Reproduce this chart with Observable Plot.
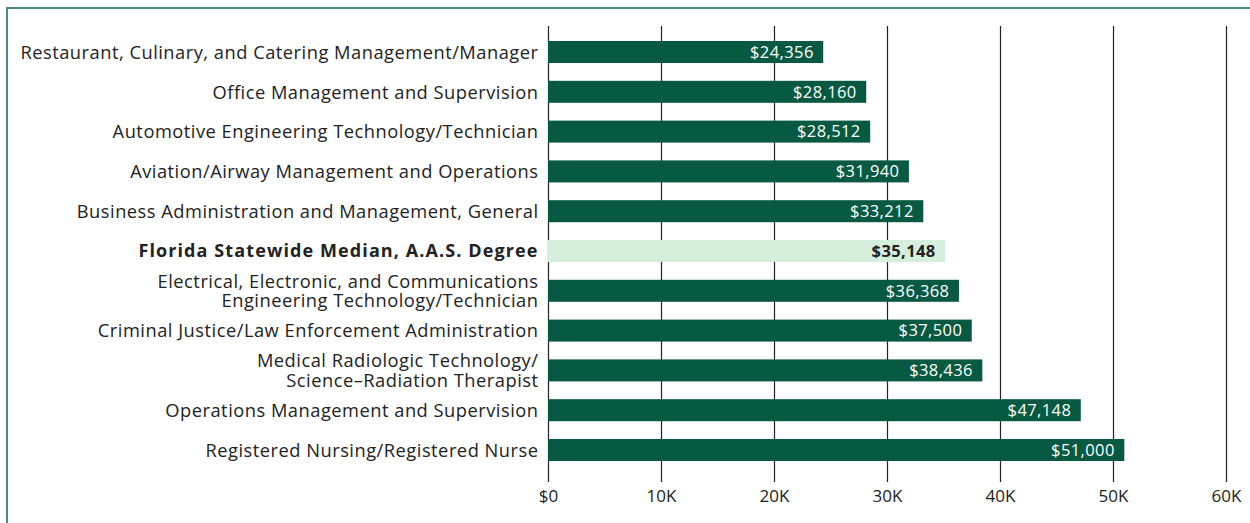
<!DOCTYPE html>
<html><head><meta charset="utf-8">
<script src="https://cdn.jsdelivr.net/npm/d3@7"></script>
<script src="https://cdn.jsdelivr.net/npm/@observablehq/plot@0.6"></script>
<style>
body{margin:0;background:#fff;}
#wrap{position:relative;width:1250px;height:523px;overflow:hidden;}
#border{position:absolute;left:6px;top:7px;right:0;bottom:0;border-left:2px solid #4e8c74;border-top:2px solid #4e8c74;}
#chart{position:absolute;left:0;top:0;}
</style></head><body>
<div id="wrap"><div id="border"></div><div id="chart"></div></div>
<script>
const programs = [
  "Restaurant, Culinary, and Catering Management/Manager",
  "Office Management and Supervision",
  "Automotive Engineering Technology/Technician",
  "Aviation/Airway Management and Operations",
  "Business Administration and Management, General",
  "Florida Statewide Median, A.A.S. Degree",
  "Electrical, Electronic, and Communications\nEngineering Technology/Technician",
  "Criminal Justice/Law Enforcement Administration",
  "Medical Radiologic Technology/\nScience\u2013Radiation Therapist",
  "Operations Management and Supervision",
  "Registered Nursing/Registered Nurse"
];
const salaries = [24356, 28160, 28512, 31940, 33212, 35148, 36368, 37500, 38436, 47148, 51000];
const highlight = "Florida Statewide Median, A.A.S. Degree";
const xTicks = [0, 10000, 20000, 30000, 40000, 50000, 60000];
const xTickLabels = ["$0", "10K", "20K", "30K", "40K", "50K", "60K"];

const data = programs.map((p, i) => ({program: p, salary: salaries[i], median: p === highlight}));
const fmt = v => "$" + d3.format(",")(v);
const FONT = "'Open Sans'";

const chart = Plot.plot({
  width: 1250,
  height: 523,
  marginTop: 26,
  marginBottom: 41,
  marginLeft: 548,
  marginRight: 24,
  style: {background: "transparent", fontFamily: FONT, color: "#222"},
  x: {domain: [0, 60000], ticks: xTicks, tickFormat: (d, i) => xTickLabels[xTicks.indexOf(d)], label: null},
  y: {domain: programs, axis: null, paddingInner: 0.447, paddingOuter: 0, insetTop: 15, insetBottom: 21, round: false},
  marks: [
    Plot.gridX(xTicks, {stroke: "#222", strokeOpacity: 1, strokeWidth: 1.2}),
    Plot.axisX({ticks: xTicks, tickSize: 0, tickPadding: 7, fontSize: 17, tickFormat: d => xTickLabels[xTicks.indexOf(d)], label: null, fill: "#222"}),
    Plot.barX(data, {x: "salary", y: "program", fill: d => d.median ? "#d5efdc" : "#075a41"}),
    Plot.text(data.filter(d => !d.median), {x: "salary", y: "program", text: d => fmt(d.salary), textAnchor: "end", dx: -10, fill: "#ffffff", fontSize: 16.5}),
    Plot.text(data.filter(d => d.median), {x: "salary", y: "program", text: d => fmt(d.salary), textAnchor: "end", dx: -10, fill: "#222", fontSize: 16.5, fontWeight: "bold"}),
    Plot.text(data.filter(d => !d.median), {x: () => 0, y: "program", text: "program", textAnchor: "end", dx: -10, fill: "#222", fontSize: 18.3, lineHeight: 1.06}),
    Plot.text(data.filter(d => d.median), {x: () => 0, y: "program", text: "program", textAnchor: "end", dx: -10, fill: "#222", fontSize: 18, fontWeight: "bold"})
  ]
});
const textGroups = d3.select(chart).selectAll('g[aria-label="text"]').nodes();
// value labels, bold value, category labels, bold category
const spacing = [0.4, 0.4, 0.5, 1.1];
textGroups.forEach((g, i) => g.setAttribute("letter-spacing", spacing[i] ?? 0));
document.getElementById("chart").appendChild(chart);
</script>
</body></html>
